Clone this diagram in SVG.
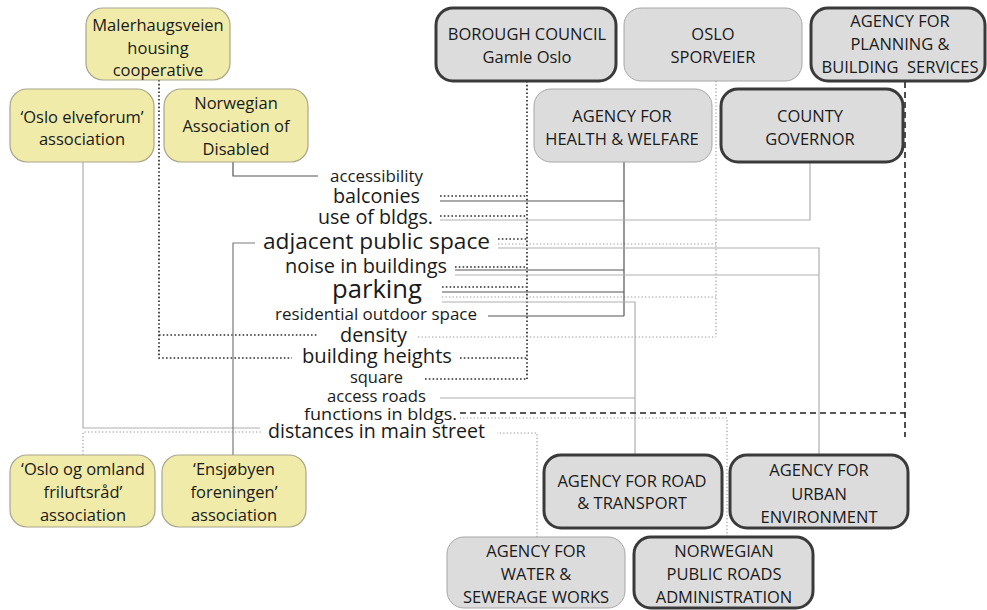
<svg xmlns="http://www.w3.org/2000/svg" width="987" height="610" viewBox="0 0 987 610">
<style>
  text { font-family: "Open Sans", "Noto Sans", "Liberation Sans", sans-serif; fill: #1a1a1a; }
  .bt { font-size: 16.5px; text-anchor: middle; }
  .lb { text-anchor: start; }
  .yel { fill: #f0eba9; stroke: #a9a68c; stroke-width: 1.2; }
  .gthin { fill: #dcdcdc; stroke: #a6a6a6; stroke-width: 1; }
  .gthick { fill: #dcdcdc; stroke: #3a3a3a; stroke-width: 3; }
  .c { fill: none; }
  .ddot { stroke: #2e2e2e; stroke-width: 1.7; stroke-dasharray: 1.6 2.2; }
  .ldot { stroke: #9a9a9a; stroke-width: 1.2; stroke-dasharray: 1.3 2.2; }
  .dsol { stroke: #555; stroke-width: 1.2; }
  .msol { stroke: #7a7a7a; stroke-width: 1.2; }
  .lsol { stroke: #b0b0b0; stroke-width: 1.2; }
  .dash { stroke: #222; stroke-width: 1.6; stroke-dasharray: 6 4; }
</style>

<g id="connectors" class="c">
  <path class="ddot" d="M159,80 V358 H292 M159,335 H318"/>
  <path class="ddot" d="M527,81 V379 M440,196 H527 M440,216 H527 M498,239 H527 M455,267 H527 M442,287 H527 M460,358 H527 M425,379 H527"/>
  <path class="ldot" d="M716,81 V337 M498,244 H716 M442,297 H716 M418,337 H716"/>
  <path class="dsol" d="M624,162 V316 M440,201 H624 M455,270 H624 M442,292 H624 M488,316 H624"/>
  <path class="lsol" d="M810,162 V220 H440"/>
  <path class="lsol" d="M819,455 V248 H498 M455,275 H819"/>
  <path class="lsol" d="M635,455 V302 H442 M440,398 H635"/>
  <path class="dash" d="M905,82 V437 M460,413 H905"/>
  <path class="ldot" d="M727,537 V418 H460"/>
  <path class="ldot" d="M537,537 V433 H497"/>
  <path class="lsol" d="M83,162 V428 H260"/>
  <path class="ldot" d="M83,455 V432 H262"/>
  <path class="msol" d="M233,455 V243 H255"/>
  <path class="dsol" d="M233,162 V176 H318"/>
</g>

<g id="labels">
  <text class="lb" x="330" y="182" font-size="17" textLength="93" lengthAdjust="spacingAndGlyphs">accessibility</text>
  <text class="lb" x="333" y="203" font-size="20" textLength="87" lengthAdjust="spacingAndGlyphs">balconies</text>
  <text class="lb" x="318" y="224" font-size="20" textLength="115" lengthAdjust="spacingAndGlyphs">use of bldgs.</text>
  <text class="lb" x="263" y="249" font-size="22.5" textLength="227" lengthAdjust="spacingAndGlyphs">adjacent public space</text>
  <text class="lb" x="285" y="273" font-size="20" textLength="162" lengthAdjust="spacingAndGlyphs">noise in buildings</text>
  <text class="lb" x="332" y="298" font-size="26" textLength="90" lengthAdjust="spacingAndGlyphs">parking</text>
  <text class="lb" x="275" y="320" font-size="17" textLength="202" lengthAdjust="spacingAndGlyphs">residential outdoor space</text>
  <text class="lb" x="340" y="342" font-size="20" textLength="67" lengthAdjust="spacingAndGlyphs">density</text>
  <text class="lb" x="302" y="363" font-size="20.5" textLength="150" lengthAdjust="spacingAndGlyphs">building heights</text>
  <text class="lb" x="350" y="383" font-size="16.5" textLength="53" lengthAdjust="spacingAndGlyphs">square</text>
  <text class="lb" x="327" y="402" font-size="16.5" textLength="99" lengthAdjust="spacingAndGlyphs">access roads</text>
  <text class="lb" x="304" y="420" font-size="17" textLength="153" lengthAdjust="spacingAndGlyphs">functions in bldgs.</text>
  <text class="lb" x="268" y="438" font-size="20" textLength="217" lengthAdjust="spacingAndGlyphs">distances in main street</text>
</g>

<g id="malerhaugsveien">
  <rect class="yel" x="86" y="8" width="144" height="72" rx="17"/>
  <text class="bt" x="158" y="31">Malerhaugsveien</text>
  <text class="bt" x="158" y="54">housing</text>
  <text class="bt" x="158" y="76">cooperative</text>
</g>
<g id="oslo-elveforum">
  <rect class="yel" x="10" y="89" width="144" height="73" rx="17"/>
  <text class="bt" x="82" y="123">‘Oslo elveforum’</text>
  <text class="bt" x="82" y="145">association</text>
</g>
<g id="norwegian-disabled">
  <rect class="yel" x="164" y="89" width="144" height="73" rx="17"/>
  <text class="bt" x="236" y="109">Norwegian</text>
  <text class="bt" x="236" y="132">Association of</text>
  <text class="bt" x="236" y="155">Disabled</text>
</g>
<g id="oslo-og-omland">
  <rect class="yel" x="10" y="455" width="145" height="72" rx="17"/>
  <text class="bt" x="83" y="475">‘Oslo og omland</text>
  <text class="bt" x="83" y="498">friluftsråd’</text>
  <text class="bt" x="83" y="521">association</text>
</g>
<g id="ensjobyen">
  <rect class="yel" x="162" y="455" width="144" height="72" rx="17"/>
  <text class="bt" x="234" y="475">‘Ensjøbyen</text>
  <text class="bt" x="234" y="498">foreningen’</text>
  <text class="bt" x="234" y="521">association</text>
</g>

<g id="borough-council">
  <rect class="gthick" x="436" y="8" width="180" height="73" rx="17"/>
  <text class="bt" x="527" y="40">BOROUGH COUNCIL</text>
  <text class="bt" x="527" y="63">Gamle Oslo</text>
</g>
<g id="oslo-sporveier">
  <rect class="gthin" x="624" y="8" width="178" height="73" rx="17"/>
  <text class="bt" x="713" y="40">OSLO</text>
  <text class="bt" x="713" y="63">SPORVEIER</text>
</g>
<g id="planning-building">
  <rect class="gthick" x="811" y="8" width="174" height="73" rx="17"/>
  <text class="bt" x="900" y="27">AGENCY FOR</text>
  <text class="bt" x="900" y="50">PLANNING &amp;</text>
  <text class="bt" x="900" y="73" xml:space="preserve">BUILDING  SERVICES</text>
</g>
<g id="health-welfare">
  <rect class="gthin" x="534" y="89" width="178" height="73" rx="17"/>
  <text class="bt" x="622" y="122">AGENCY FOR</text>
  <text class="bt" x="622" y="145">HEALTH &amp; WELFARE</text>
</g>
<g id="county-governor">
  <rect class="gthick" x="721" y="89" width="182" height="73" rx="17"/>
  <text class="bt" x="810" y="122">COUNTY</text>
  <text class="bt" x="810" y="145">GOVERNOR</text>
</g>
<g id="road-transport">
  <rect class="gthick" x="544" y="455" width="178" height="73" rx="17"/>
  <text class="bt" x="632" y="487">AGENCY FOR ROAD</text>
  <text class="bt" x="632" y="509">&amp; TRANSPORT</text>
</g>
<g id="urban-environment">
  <rect class="gthick" x="730" y="455" width="178" height="73" rx="17"/>
  <text class="bt" x="819" y="476">AGENCY FOR</text>
  <text class="bt" x="819" y="500">URBAN</text>
  <text class="bt" x="819" y="523">ENVIRONMENT</text>
</g>
<g id="water-sewerage">
  <rect class="gthin" x="447" y="537" width="178" height="71" rx="17"/>
  <text class="bt" x="536" y="557">AGENCY FOR</text>
  <text class="bt" x="536" y="580">WATER &amp;</text>
  <text class="bt" x="536" y="603">SEWERAGE WORKS</text>
</g>
<g id="public-roads">
  <rect class="gthick" x="634" y="537" width="179" height="71" rx="17"/>
  <text class="bt" x="724" y="557">NORWEGIAN</text>
  <text class="bt" x="724" y="580">PUBLIC ROADS</text>
  <text class="bt" x="724" y="603">ADMINISTRATION</text>
</g>
</svg>
